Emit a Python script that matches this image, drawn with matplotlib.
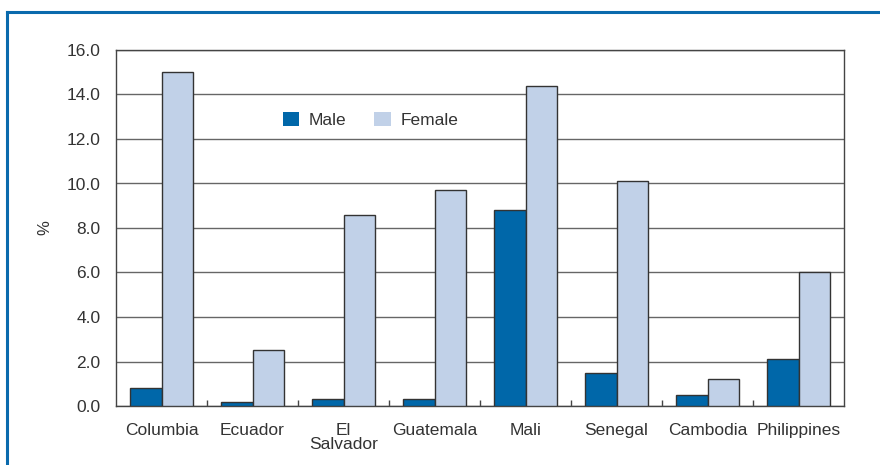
import numpy as np
import matplotlib
matplotlib.use('Agg')
import matplotlib.pyplot as plt
from matplotlib.lines import Line2D
from matplotlib.patches import Patch

# ---------------- data ----------------
countries = ['Columbia', 'Ecuador', 'El\nSalvador', 'Guatemala', 'Mali',
             'Senegal', 'Cambodia', 'Philippines']
male   = [0.8, 0.2, 0.3, 0.3, 8.8, 1.5, 0.5, 2.1]
female = [15.0, 2.5, 8.6, 9.7, 14.4, 10.1, 1.2, 6.0]
yticks = [0, 2, 4, 6, 8, 10, 12, 14, 16]

MALE_C, FEMALE_C = '#0067a9', '#c1d1e8'
EDGE = '#333333'
TXT = '#333333'
BLUE = '#0a6aad'

plt.rcParams['font.family'] = ['Liberation Sans', 'DejaVu Sans']

fig = plt.figure(figsize=(8.8, 4.65), dpi=100)
ax = fig.add_axes([116/880, 59/465, 728/880, 356/465])

x = np.arange(len(countries))
w = 0.35
ax.bar(x - w/2, male, width=w, color=MALE_C, edgecolor=EDGE, lw=1.0, zorder=3)
ax.bar(x + w/2, female, width=w, color=FEMALE_C, edgecolor=EDGE, lw=1.0, zorder=3)

ax.set_xlim(-0.5, len(countries) - 0.5)
ax.set_ylim(0, 16)
ax.set_yticks(yticks)
ax.set_yticklabels([f'{v:.1f}' for v in yticks], fontsize=12.5, color=TXT)
ax.tick_params(axis='y', length=0, pad=11)
ax.yaxis.grid(True, color='#666666', lw=1.0, zorder=0)

ax.set_xticks(x)
ax.set_xticklabels(countries, fontsize=12.5, color=TXT, linespacing=0.95)
ax.tick_params(axis='x', which='major', length=0, pad=12)
ax.set_xticks(np.arange(0.5, len(countries) - 1), minor=True)
ax.tick_params(axis='x', which='minor', direction='in', length=4.5,
               width=1.0, color='#444444')

for s in ax.spines.values():
    s.set_color('#444444')
    s.set_linewidth(1.0)

ax.set_ylabel('%', fontsize=12, color=TXT)
ax.yaxis.set_label_coords(-0.088, 0.5)

handles = [Patch(facecolor=MALE_C, edgecolor='none', label='Male'),
           Patch(facecolor=FEMALE_C, edgecolor='none', label='Female')]
ax.legend(handles=handles, ncol=2, frameon=False, fontsize=12.5,
          loc='center left', bbox_to_anchor=(0.229, 0.803),
          borderpad=0, borderaxespad=0, handlelength=0.95, handleheight=0.85,
          handletextpad=0.55, columnspacing=1.6, labelcolor=TXT)

# blue frame (top and left)
fig.add_artist(Line2D([7/880, 1.0], [1 - 12/465, 1 - 12/465],
                      transform=fig.transFigure, color=BLUE, lw=2.2))
fig.add_artist(Line2D([7/880, 7/880], [0, 1 - 12/465],
                      transform=fig.transFigure, color=BLUE, lw=2.2))

fig.savefig('out.png', dpi=100)
